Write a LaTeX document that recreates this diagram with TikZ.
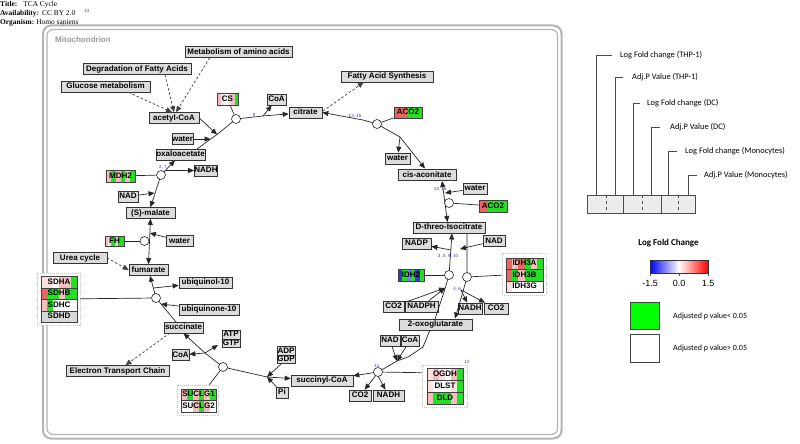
\documentclass[tikz,border=0pt]{standalone}
\usepackage{fontspec}
\setmainfont{Liberation Serif}
\newfontfamily\arialf{Liberation Sans}
\newfontfamily\calibf{Carlito}
\usetikzlibrary{arrows.meta,calc}

\definecolor{metfill}{HTML}{DCDCDC}
\definecolor{pk}{HTML}{F5BDBD}
\definecolor{lp}{HTML}{FBE1E1}
\definecolor{rd}{HTML}{EE6464}
\definecolor{gr}{HTML}{22E022}
\definecolor{bl}{HTML}{3535E0}
\definecolor{lb}{HTML}{7C7CF0}
\definecolor{wh}{HTML}{FFFFFF}
\definecolor{nd}{HTML}{D8D8D8}
\definecolor{numblue}{HTML}{3535A5}
\definecolor{mitogray}{HTML}{B4B4B4}

\newcommand{\stripefill}[1]{%
  \foreach \cc [count=\ii from 0] in {#1}{%
    \fill[fill=\cc] ($(path picture bounding box.south west)!\ii/6!(path picture bounding box.south east)$) rectangle ($(path picture bounding box.north west)!{(\ii+1)/6}!(path picture bounding box.north east)$);}}

\tikzset{
  met/.style={draw=black!80, line width=0.6pt, fill=metfill, font=\arialf\bfseries\fontsize{8}{9}\selectfont,
    inner sep=0pt, minimum height=11pt, text height=5.8pt, text depth=1.4pt, minimum width=#1},
  gene/.style={draw=black!75, line width=0.5pt, font=\arialf\bfseries\fontsize{8}{9}\selectfont,
    inner sep=0pt, minimum height=11.5pt, text height=5.8pt, text depth=1.4pt, path picture={\stripefill{#1}}},
  grp/.style={draw=gray!45, dash pattern=on 1pt off 1pt, fill=white, line width=0.6pt, inner sep=0pt},
  cat/.style={circle, draw=black!85, fill=white, minimum size=9pt, inner sep=0pt, line width=0.6pt},
  rx/.style={line width=0.7pt, draw=black!85},
  arr/.style={rx, -{Triangle[length=6pt,width=5pt]}},
  barr/.style={rx, {Triangle[length=6pt,width=5pt]}-{Triangle[length=6pt,width=5pt]}},
  dsh/.style={rx, draw=black!75, dash pattern=on 2.5pt off 2pt, -{Triangle[length=6pt,width=5pt]}},
  num/.style={font=\arialf\fontsize{4.5}{5}\selectfont, text=numblue, inner sep=0pt},
  lgtext/.style={anchor=west, font=\calibf\fontsize{8.4}{10}\selectfont, inner sep=0pt},
  lgline/.style={draw=black!70, line width=0.6pt},
  ttl/.style={anchor=west, inner sep=0pt, font=\fontsize{7.4}{8}\selectfont}
}

\begin{document}
\begin{tikzpicture}[x=1pt,y=-1pt]
\useasboundingbox (0,0) rectangle (800,444);

% ---------- title block ----------
\node[ttl] (ttlA) at (0,4.5) {\textbf{Title:}\hspace{6pt}TCA Cycle};
\node[ttl] (ttlB) at (0,13.5) {\textbf{Availability:}\hspace{3pt}CC BY 2.0};
\node[num, anchor=west] (ref14) at (84,11) {14};
\node[ttl] (ttlC) at (0,22.5) {\textbf{Organism:}\hspace{2pt}Homo sapiens};

% ---------- mitochondrion ----------
\draw[mitogray, line width=2pt, rounded corners=8pt] (43,25.5) rectangle (561.5,438.5);
\draw[mitogray, line width=1.2pt, rounded corners=6pt] (47,29.5) rectangle (557.5,434.5);
\node[anchor=west, font=\arialf\bfseries\fontsize{8}{9}\selectfont, text=gray!80, inner sep=0pt] (mitolbl) at (55,40) {Mitochondrion};

% ---------- groups ----------
\node[grp, minimum width=43pt, minimum height=52pt] (sdhg) at (58.5,299) {};
\node[grp, minimum width=41pt, minimum height=30pt] (suclgg) at (197.5,400) {};
\node[grp, minimum width=44pt, minimum height=42pt] (idh3gg) at (524,274) {};
\node[grp, minimum width=45pt, minimum height=42pt] (ogdhg) at (444.5,386) {};

% ---------- metabolites / pathways ----------
\node[met=107] (maa) at (238.5,52) {Metabolism of amino acids};
\node[met=108] (dfa) at (137,69) {Degradation of Fatty Acids};
\node[met=89] (glc) at (105.5,86.5) {Glucose metabolism};
\node[met=50] (acoa) at (174,118) {acetyl-CoA};
\node[met=19] (coa1) at (276.5,99.5) {CoA};
\node[met=33] (cit) at (305.5,112.5) {citrate};
\node[met=92] (fas) at (387,76.5) {Fatty Acid Synthesis};
\node[met=21] (wat1) at (182.5,139) {water};
\node[met=49] (oaa) at (180.5,154.5) {oxaloacetate};
\node[met=22] (nadh1) at (206,170.5) {NADH};
\node[met=20] (nad1) at (128,196.5) {NAD};
\node[met=49] (mal) at (150.5,213) {(S)-malate};
\node[met=27] (wat2) at (179.5,241) {water};
\node[met=54] (urea) at (80,258) {Urea cycle};
\node[met=39] (fum) at (148.5,270) {fumarate};
\node[met=53] (uqol) at (205.5,282.5) {ubiquinol-10};
\node[met=60] (uq) at (209,309.5) {ubiquinone-10};
\node[met=39] (suc) at (183.5,327.5) {succinate};
\node[met=18, minimum height=8.5pt] (atp) at (231,334.75) {ATP};
\node[met=18, minimum height=8.5pt] (gtp) at (231,343.25) {GTP};
\node[met=17] (coa3) at (180.5,355) {CoA};
\node[met=103] (etc) at (117.5,371) {Electron Transport Chain};
\node[met=18, minimum height=8.5pt] (adp) at (286,351) {ADP};
\node[met=18, minimum height=8.5pt] (gdp) at (286,359.5) {GDP};
\node[met=12] (pi) at (282,392.5) {Pi};
\node[met=62] (sca) at (322,380.5) {succinyl-CoA};
\node[met=22] (co2c) at (360,395.5) {CO2};
\node[met=31] (nadh3) at (388.5,395.5) {NADH};
\node[met=20] (nad3) at (390,340.5) {NAD};
\node[met=18] (coa2) at (410,340.5) {CoA};
\node[met=73] (akg) at (435.5,324.5) {2-oxoglutarate};
\node[met=21] (co2a) at (393.5,306.5) {CO2};
\node[met=33] (nadph) at (421.5,306.5) {NADPH};
\node[met=24] (nadh2) at (470,308.5) {NADH};
\node[met=24] (co2b) at (496,308.5) {CO2};
\node[met=29] (nadp) at (416.5,243.5) {NADP};
\node[met=22] (nad2) at (494,241) {NAD};
\node[met=72] (icit) at (449,227.5) {D-threo-Isocitrate};
\node[met=24] (wat4) at (475,188.5) {water};
\node[met=58] (cis) at (427,175) {cis-aconitate};
\node[met=25] (wat3) at (397.5,158.5) {water};

% ---------- genes ----------
\node[gene={pk,lp,wh,lp,pk,gr}, minimum width=21pt, minimum height=12pt] (cs) at (227.5,99) {CS};
\node[gene={pk,gr,pk,gr,pk,gr}, minimum width=29pt, minimum height=12pt] (mdh) at (120.5,176) {MDH2};
\node[gene={rd,rd,rd,gr,gr,gr}, minimum width=28pt, minimum height=11pt] (aco2a) at (408,112.5) {ACO2};
\node[gene={rd,rd,gr,gr,gr,gr}, minimum width=28pt, minimum height=12pt] (aco2b) at (493,206) {ACO2};
\node[gene={pk,lp,gr,pk,gr,gr}, minimum width=19pt, minimum height=10pt] (fh) at (114.5,241) {FH};
\node[gene={bl,gr,lb,gr,bl,gr}, minimum width=26pt, minimum height=12pt] (idh2) at (411,275) {IDH2};
\node[gene={lp,lp,wh,pk,pk,gr}, minimum width=36pt] (sdha) at (59,282.25) {SDHA};
\node[gene={rd,gr,gr,pk,gr,gr}, minimum width=36pt] (sdhb) at (59,293.75) {SDHB};
\node[gene={pk,gr,wh,wh,wh,wh}, minimum width=36pt] (sdhc) at (59,305.25) {SDHC};
\node[gene={nd,nd,nd,nd,nd,nd}, minimum width=36pt] (sdhd) at (59,316.75) {SDHD};
\node[gene={pk,gr,pk,gr,pk,gr}, minimum width=35pt] (suclg1) at (198.5,394.5) {SUCLG1};
\node[gene={wh,wh,pk,gr,pk,wh}, minimum width=35pt] (suclg2) at (198.5,406) {SUCLG2};
\node[gene={rd,pk,rd,gr,pk,gr}, minimum width=37pt] (idh3a) at (524.5,263.5) {IDH3A};
\node[gene={rd,gr,pk,gr,gr,gr}, minimum width=37pt] (idh3b) at (524.5,275) {IDH3B};
\node[gene={lp,wh,wh,wh,wh,wh}, minimum width=37pt] (idh3g) at (524.5,286.5) {IDH3G};
\node[gene={lp,pk,lp,wh,pk,gr}, minimum width=36pt, minimum height=12pt] (ogdh) at (445,374) {OGDH};
\node[gene={lp,wh,wh,wh,lp,gr}, minimum width=36pt, minimum height=12pt] (dlst) at (445,386) {DLST};
\node[gene={pk,gr,gr,gr,pk,gr}, minimum width=36pt, minimum height=12pt] (dld) at (445,398) {DLD};

% ---------- coordinates ----------
\coordinate (k_cs) at (236,119);
\coordinate (k_mdh) at (161,175);
\coordinate (k_fh) at (144.5,241);
\coordinate (k_sdh) at (156,298);
\coordinate (k_suc) at (223,367);
\coordinate (k_sca) at (267,377);
\coordinate (k_og) at (397,361);
\coordinate (k_ogdh) at (378,372);
\coordinate (k_idh2) at (449,275);
\coordinate (k_idh3) at (467,277);
\coordinate (k_aco1) at (377,124);
\coordinate (k_aco2) at (449,203);

\coordinate (p_cs0) at (197,149);
\coordinate (p_cs1) at (217,134.5);
\coordinate (p_cs2) at (263,116);
\coordinate (p_w1) at (210.5,139);
\coordinate (p_nad1) at (154.5,193);
\coordinate (p_nadh1) at (165,170.5);
\coordinate (p_fhw) at (149.8,233);
\coordinate (p_sdh0) at (176,322);
\coordinate (p_uqol) at (153.5,288);
\coordinate (p_uq) at (161,304);
\coordinate (p_sdash) at (170,333);
\coordinate (p_suc1) at (205,353);
\coordinate (p_atp) at (218,345);
\coordinate (p_og0) at (430,330);
\coordinate (p_og1) at (423,347);
\coordinate (p_og2) at (408,357);
\coordinate (p_og3) at (377,374);
\coordinate (p_i0) at (435,319);
\coordinate (p_i1) at (444,292);
\coordinate (p_i2) at (452,233.5);
\coordinate (p_i3) at (451,250);
\coordinate (p_i4) at (445,288);
\coordinate (p_j0) at (467,233);
\coordinate (p_j1) at (462,295);
\coordinate (p_j2) at (455,318.5);
\coordinate (p_j3) at (460,249);
\coordinate (p_j4) at (461,290);
\coordinate (p_a0) at (442,181);
\coordinate (p_a1) at (447.5,222);
\coordinate (p_a2) at (445,193);
\coordinate (p_b0) at (363,120);
\coordinate (p_b1) at (400,137);
\coordinate (p_b2) at (425,168.5);
\coordinate (p_b3) at (323,111);

% ---------- pathway (dashed) links ----------
\draw[dsh] ($(glc.south east)+(-22,0)$) -- ($(acoa.north)+(-2,0)$);
\draw[dsh] ($(dfa.south)+(28,0)$) -- (acoa.north);
\draw[dsh] ($(maa.south west)+(25,0)$) -- ($(acoa.north)+(2,0)$);
\draw[dsh] (p_b3) -- ($(fas.south west)+(23,0)$);
\draw[dsh] (urea.east) -- (fum.west);
\draw[dsh] (p_sdash) -- (etc);

% ---------- reactions ----------
% citrate synthase
\draw[arr] (p_cs0) -- (p_cs1) -- (k_cs) -- (p_cs2) -- (cit);
\draw[arr] (p_cs2) -- (coa1);
\draw[arr] (acoa.east) -- (p_cs1);
\draw[arr] (wat1.east) -- (p_w1);
% aconitase 1
\draw[barr] (cit.east) -- (p_b0) -- (k_aco1) -- (p_b1) -- (p_b2);
\draw[arr] (p_b1) -- (wat3);
% aconitase 2
\draw[barr] (p_a0) -- (p_a1);
\draw[arr] (wat4) -- (p_a2);
% IDH2
\draw[arr] (p_i0) -- (p_i1) -- (k_idh2) -- (p_i2);
\draw[arr] (p_i3) -- (nadp);
\draw[arr] (co2a) -- (p_i4);
\draw[arr] (nadph) -- (p_i4);
% IDH3
\draw[arr] (p_j0) -- (k_idh3) -- (p_j1) -- (p_j2);
\draw[arr] (nad2) -- (p_j3);
\draw[arr] (p_j4) -- (nadh2);
\draw[arr] (p_j4) -- (co2b);
% OGDH
\draw[arr] (p_og0) -- (p_og1) -- (p_og2) -- (k_og) -- (k_ogdh) -- (sca);
\draw[arr] (nad3) -- (k_og);
\draw[arr] (coa2) -- (k_og);
\draw[arr] (p_og3) -- (co2c);
\draw[arr] (p_og3) -- (nadh3);
% SUCLG
\draw[arr] (k_sca) -- (k_suc) -- (p_suc1) -- (suc.south);
\draw[arr] (k_sca) -- (sca);
\draw[arr] (gdp) -- (k_sca);
\draw[arr] (pi) -- (k_sca);
\draw[arr] (p_suc1) -- (coa3);
\draw[arr] (p_suc1) -- (p_atp);
% SDH
\draw[arr] (p_sdh0) -- (k_sdh) -- (fum);
\draw[arr] (p_uqol) -- (uqol);
\draw[arr] (uq) -- (p_uq);
% FH
\draw[barr] (mal.south) -- (fum.north);
\draw[arr] (wat2) -- (p_fhw);
% MDH
\draw[barr] (mal.north) -- (k_mdh) -- (oaa);
\draw[arr] (nad1) -- (p_nad1);
\draw[arr] (p_nadh1) -- (nadh1);

% ---------- catalysis circles ----------
\node[cat] (c_cs) at (k_cs) {};
\node[cat] (c_mdh) at (k_mdh) {};
\node[cat] (c_fh) at (k_fh) {};
\node[cat] (c_sdh) at (k_sdh) {};
\node[cat] (c_suc) at (k_suc) {};
\node[cat] (c_ogdh) at (k_ogdh) {};
\node[cat] (c_idh2) at (k_idh2) {};
\node[cat] (c_idh3) at (k_idh3) {};
\node[cat] (c_aco1) at (k_aco1) {};
\node[cat] (c_aco2) at (k_aco2) {};

\draw[rx] (cs) -- (c_cs);
\draw[rx] (mdh) -- (c_mdh);
\draw[rx] (fh) -- (c_fh);
\draw[rx] (sdhg) -- (c_sdh);
\draw[rx] (suclgg) -- (c_suc);
\draw[rx] ($(ogdhg.north west)+(0,8)$) -- (c_ogdh);
\draw[rx] (idh2) -- (c_idh2);
\draw[rx] (idh3gg) -- (c_idh3);
\draw[rx] (aco2a) -- (c_aco1);
\draw[rx] (aco2b) -- (c_aco2);

% ---------- reaction numbers ----------
\node[num] (n8) at (254,115) {8};
\node[num] (n27) at (163,167) {2, 7};
\node[num] (n1315a) at (355,116) {13, 15};
\node[num] (n1315b) at (440,189) {13, 15};
\node[num] (n34910) at (448,256) {3, 4, 9, 10};
\node[num] (n46) at (457,289) {4, 6};
\node[num] (n11) at (377,366) {11};
\node[num] (n12) at (467,362) {12};

% ---------- legend ----------
\node[draw=black!70, fill=gray!15, line width=0.6pt, minimum width=108pt, minimum height=18pt, inner sep=0pt] (lgbox) at (641,204) {};
\draw[lgline] (623,195) -- (623,213);
\draw[lgline] (661,195) -- (661,213);
\draw[lgline, dashed] (606,195) -- (606,213);
\draw[lgline, dashed] (642,195) -- (642,213);
\draw[lgline, dashed] (678,195) -- (678,213);

\node[lgtext] (lg1) at (620,55) {Log Fold change (THP-1)};
\node[lgtext] (lg2) at (632,77) {Adj.P Value (THP-1)};
\node[lgtext] (lg3) at (647,103) {Log Fold change (DC)};
\node[lgtext] (lg4) at (670,127) {Adj.P Value (DC)};
\node[lgtext] (lg5) at (685,151) {Log Fold change (Monocytes)};
\node[lgtext] (lg6) at (704,175) {Adj.P Value (Monocytes)};

\coordinate (v1) at (596.5,195); \coordinate (h1) at (612,55);
\coordinate (v2) at (615,195);   \coordinate (h2) at (623,77);
\coordinate (v3) at (633,195);   \coordinate (h3) at (640,103);
\coordinate (v4) at (651,195);   \coordinate (h4) at (660,127);
\coordinate (v5) at (668,195);   \coordinate (h5) at (677,151);
\coordinate (v6) at (688,195);   \coordinate (h6) at (697,175);
\draw[lgline] (v1) |- (h1);
\draw[lgline] (v2) |- (h2);
\draw[lgline] (v3) |- (h3);
\draw[lgline] (v4) |- (h4);
\draw[lgline] (v5) |- (h5);
\draw[lgline] (v6) |- (h6);

\node[font=\calibf\bfseries\fontsize{9}{11}\selectfont, inner sep=0pt] (lfctitle) at (668.5,243) {Log Fold Change};
\node[draw=black!80, line width=0.6pt, minimum width=58pt, minimum height=13pt, inner sep=0pt,
      left color=blue, right color=red, middle color=white] (cbar) at (679,266.5) {};
\draw[lgline] (650,273) -- (650,276);
\draw[lgline] (679,273) -- (679,276);
\draw[lgline] (708,273) -- (708,276);
\node[font=\arialf\fontsize{9}{10}\selectfont, inner sep=0pt] (tk1) at (650,283) {-1.5};
\node[font=\arialf\fontsize{9}{10}\selectfont, inner sep=0pt] (tk2) at (679,283) {0.0};
\node[font=\arialf\fontsize{9}{10}\selectfont, inner sep=0pt] (tk3) at (708,283) {1.5};

\node[draw=black!75, line width=0.7pt, fill={rgb,255:red,0;green,255;blue,0}, minimum width=29pt, minimum height=27pt, inner sep=0pt] (sqg) at (644.5,315.5) {};
\node[draw=black!75, line width=0.7pt, fill=white, minimum width=29pt, minimum height=28pt, inner sep=0pt] (sqw) at (644.5,348) {};
\node[anchor=west, font=\calibf\fontsize{8}{9}\selectfont, inner sep=0pt] (lgg) at (673,316) {Adjusted p value< 0.05};
\node[anchor=west, font=\calibf\fontsize{8}{9}\selectfont, inner sep=0pt] (lgw) at (673,348) {Adjusted p value> 0.05};
\end{tikzpicture}
\end{document}
